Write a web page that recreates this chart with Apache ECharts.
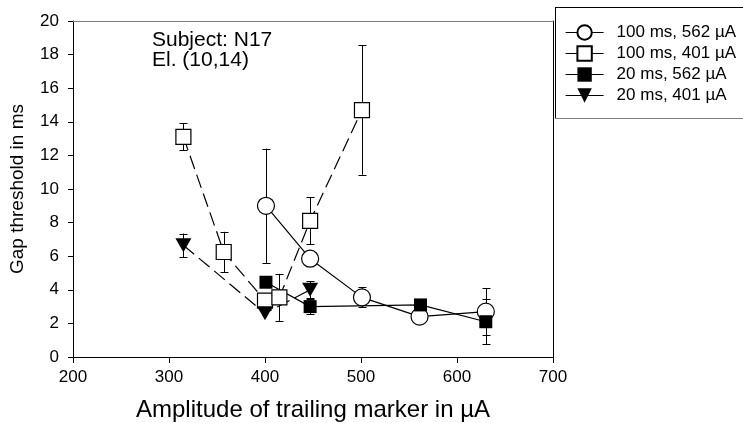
<!DOCTYPE html>
<html>
<head>
<meta charset="utf-8">
<script src="https://cdn.jsdelivr.net/npm/echarts@6.0.0/dist/echarts.min.js"></script>
<style>
  html, body { margin: 0; padding: 0; background: #fff; }
  #chart { width: 743px; height: 423px; }
</style>
</head>
<body>
<div id="chart"></div>
<script>
// Gap thresholds (ms) vs. amplitude of the trailing marker (µA), with ± error
const amp100_562 = [401, 447, 501, 561, 630];
const gap100_562 = [9.0, 5.85, 3.55, 2.4, 2.7];
const err100_562 = [3.4, null, 0.6, null, 1.4];

const amp100_401 = [315, 357, 400, 415, 447, 501];
const gap100_401 = [13.1, 6.25, 3.35, 3.55, 8.1, 14.7];
const err100_401 = [0.8, 1.2, null, 1.4, 1.4, 3.85];

const amp20_562 = [401, 447, 562, 630];
const gap20_562 = [4.45, 3.0, 3.1, 2.1];
const err20_562 = [null, 0.45, null, 1.35];

const amp20_401 = [315, 400, 447];
const gap20_401 = [6.65, 2.6, 4.0];
const err20_401 = [0.7, null, 0.5];

const seriesNames = ['100 ms, 562 \u00B5A', '100 ms, 401 \u00B5A', '20 ms, 562 \u00B5A', '20 ms, 401 \u00B5A'];
const xTitle = 'Amplitude of trailing marker in \u00B5A';
const yTitle = 'Gap threshold in ms';
const noteText = 'Subject: N17\nEl. (10,14)';

const FONT = '"Liberation Sans", Arial, sans-serif';

function pairs(xs, ys) {
  return xs.map((x, i) => [x, ys[i]]);
}

// Vertical error bars with caps, drawn through the axis scales
function errorBars(xs, ys, es) {
  const data = [];
  xs.forEach((x, i) => {
    if (es[i] != null) data.push([x, ys[i] - es[i], ys[i] + es[i]]);
  });
  return {
    type: 'custom',
    z: 2,
    silent: true,
    data: data,
    renderItem: function (params, api) {
      const x = api.value(0);
      const lo = api.coord([x, api.value(1)]);
      const hi = api.coord([x, api.value(2)]);
      const cx = Math.round(lo[0]) + 0.5;
      const w = 4;
      const st = { stroke: '#000', lineWidth: 1 };
      return {
        type: 'group',
        children: [
          { type: 'line', shape: { x1: cx, y1: hi[1], x2: cx, y2: lo[1] }, style: st },
          { type: 'line', shape: { x1: cx - w, y1: Math.round(hi[1]) + 0.5, x2: cx + w, y2: Math.round(hi[1]) + 0.5 }, style: st },
          { type: 'line', shape: { x1: cx - w, y1: Math.round(lo[1]) + 0.5, x2: cx + w, y2: Math.round(lo[1]) + 0.5 }, style: st }
        ]
      };
    }
  };
}

const dashed = [14, 6];

const chart = echarts.init(document.getElementById('chart'), null, { renderer: 'canvas' });

chart.setOption({
  animation: false,
  backgroundColor: '#fff',
  textStyle: { fontFamily: FONT, color: '#000' },
  grid: { left: 73, right: 190, top: 21, bottom: 66, containLabel: false, outerBoundsMode: 'none' },
  xAxis: [
    {
      type: 'value', min: 200, max: 700, interval: 100, position: 'bottom',
      axisLine: { show: true, onZero: false, lineStyle: { color: '#000', width: 1 } },
      axisTick: { show: true, inside: false, length: 6, lineStyle: { color: '#000' } },
      axisLabel: { fontSize: 17, color: '#000', margin: 12, fontFamily: FONT },
      splitLine: { show: false },
      name: xTitle, nameLocation: 'middle', nameGap: 41,
      nameTextStyle: { fontSize: 24, color: '#000', fontFamily: FONT }
    },
    {
      type: 'value', min: 200, max: 700, interval: 100, position: 'top',
      axisLine: { show: true, onZero: false, lineStyle: { color: '#808080', width: 1 } },
      axisTick: { show: false }, axisLabel: { show: false }, splitLine: { show: false }
    }
  ],
  yAxis: [
    {
      type: 'value', min: 0, max: 20, interval: 2, position: 'left',
      axisLine: { show: true, onZero: false, lineStyle: { color: '#000', width: 1 } },
      axisTick: { show: true, inside: false, length: 5, lineStyle: { color: '#000' } },
      axisLabel: { fontSize: 17, color: '#000', margin: 14, fontFamily: FONT },
      splitLine: { show: false },
      name: yTitle, nameLocation: 'middle', nameGap: 46, nameRotate: 90,
      nameTextStyle: { fontSize: 19, color: '#000', fontFamily: FONT }
    },
    {
      type: 'value', min: 0, max: 20, interval: 2, position: 'right',
      axisLine: { show: true, onZero: false, lineStyle: { color: '#000', width: 1 } },
      axisTick: { show: false }, axisLabel: { show: false }, splitLine: { show: false }
    }
  ],
  legend: {
    data: seriesNames,
    orient: 'vertical',
    left: 565, top: 24,
    padding: 0,
    itemWidth: 38, itemHeight: 18, itemGap: 4,
    lineStyle: { type: 'solid', width: 1.2, color: '#000' },
    textStyle: { fontSize: 17, color: '#000', fontFamily: FONT, padding: [0, 0, 0, 8] }
  },
  graphic: [
    { type: 'line', shape: { x1: 555.5, y1: 7, x2: 555.5, y2: 119 }, style: { stroke: '#000', lineWidth: 1 } },
    { type: 'line', shape: { x1: 555, y1: 7.5, x2: 745, y2: 7.5 }, style: { stroke: '#000', lineWidth: 1 } },
    { type: 'line', shape: { x1: 555, y1: 118.5, x2: 745, y2: 118.5 }, style: { stroke: '#808080', lineWidth: 1 } },
    {
      type: 'text', left: 152, top: 30,
      style: { text: noteText, font: '21px ' + FONT, fill: '#000', lineHeight: 20 }
    }
  ],
  series: [
    errorBars(amp100_562, gap100_562, err100_562),
    errorBars(amp100_401, gap100_401, err100_401),
    errorBars(amp20_562, gap20_562, err20_562),
    errorBars(amp20_401, gap20_401, err20_401),
    {
      name: seriesNames[0], type: 'line', z: 3, data: pairs(amp100_562, gap100_562),
      symbol: 'circle', symbolSize: 17,
      itemStyle: { color: '#fff', borderColor: '#000', borderWidth: 1.2 },
      lineStyle: { color: '#000', width: 1.2, type: 'solid' }
    },
    {
      name: seriesNames[1], type: 'line', z: 3, data: pairs(amp100_401, gap100_401),
      symbol: 'rect', symbolSize: 15,
      itemStyle: { color: '#fff', borderColor: '#000', borderWidth: 1.2 },
      lineStyle: { color: '#000', width: 1.2, type: dashed }
    },
    {
      name: seriesNames[2], type: 'line', z: 3, data: pairs(amp20_562, gap20_562),
      symbol: 'rect', symbolSize: 13,
      itemStyle: { color: '#000', borderColor: '#000', borderWidth: 0 },
      lineStyle: { color: '#000', width: 1.2, type: 'solid' }
    },
    {
      name: seriesNames[3], type: 'line', z: 3, data: pairs(amp20_401, gap20_401),
      symbol: 'triangle', symbolSize: [16, 14], symbolRotate: 180,
      itemStyle: { color: '#000', borderColor: '#000', borderWidth: 0 },
      lineStyle: { color: '#000', width: 1.2, type: dashed }
    }
  ]
});
</script>
</body>
</html>
